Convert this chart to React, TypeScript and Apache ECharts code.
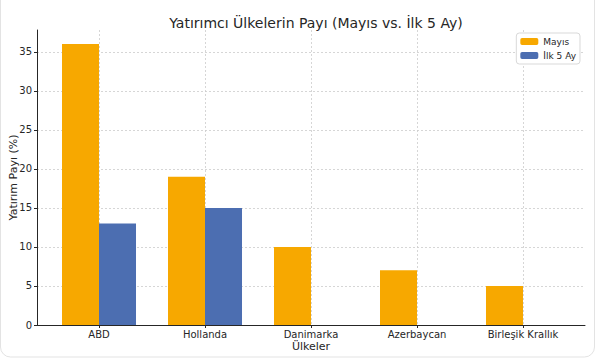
import { useEffect, useRef } from "react";
import * as echarts from "echarts";

const categories = ["ABD", "Hollanda", "Danimarka", "Azerbaycan", "Birleşik Krallık"];
const mayis = [36, 19, 10, 7, 5];
const ilk5: (number | null)[] = [13, 15, null, null, null];
const yTicks = [0, 5, 10, 15, 20, 25, 30, 35];
const xTicks = [0, 1, 2, 3, 4];

const FONT = "DejaVu Sans";

export default function App() {
  const ref = useRef<HTMLDivElement>(null);
  useEffect(() => {
    if (!ref.current) return;
    const chart = echarts.init(ref.current, undefined, { renderer: "svg" });
    const toPairs = (arr: (number | null)[]) =>
      arr.map((v, i) => (v == null ? null : [i, v])).filter((d) => d != null);
    chart.setOption({
      animation: false,
      textStyle: { fontFamily: FONT },
      title: {
        text: "Yatırımcı Ülkelerin Payı (Mayıs vs. İlk 5 Ay)",
        left: 311,
        textAlign: "center",
        top: 11,
        textStyle: { fontFamily: FONT, fontSize: 14, fontWeight: "normal", color: "#262626" },
      },
      legend: {
        orient: "vertical",
        right: 16,
        top: 33,
        itemWidth: 18,
        itemHeight: 7,
        itemGap: 5,
        padding: [4, 4, 4, 4],
        borderColor: "#d9d9d9",
        borderWidth: 1,
        borderRadius: 3,
        backgroundColor: "#ffffff",
        textStyle: { fontFamily: FONT, fontSize: 9, color: "#262626" },
        data: ["Mayıs", "İlk 5 Ay"],
      },
      grid: { left: 37, right: 11, top: 30, bottom: 34, outerBoundsMode: "none" },
      xAxis: {
        type: "value",
        min: -0.585,
        max: 4.585,
        name: "Ülkeler",
        nameLocation: "middle",
        nameGap: 16,
        nameMoveOverlap: false,
        nameTextStyle: { fontFamily: FONT, fontSize: 11, color: "#262626", verticalAlign: "top" },
        axisLine: { show: true, onZero: false, lineStyle: { color: "#262626", width: 1 } },
        axisTick: { show: true, customValues: xTicks, length: 3, lineStyle: { color: "#262626" } },
        axisLabel: {
          customValues: xTicks,
          formatter: (v: number) => categories[Math.round(v)] ?? "",
          fontFamily: FONT,
          fontSize: 10,
          color: "#262626",
          margin: 4,
        },
        splitLine: { show: true, lineStyle: { color: "#cccccc", type: [2, 2], width: 0.8 } },
      },
      yAxis: {
        type: "value",
        min: 0,
        max: 37.8,
        name: "Yatırım Payı (%)",
        nameLocation: "middle",
        nameGap: 18,
        nameMoveOverlap: false,
        nameTextStyle: { fontFamily: FONT, fontSize: 11, color: "#262626" },
        axisLine: { show: true, onZero: false, lineStyle: { color: "#262626", width: 1 } },
        axisTick: { show: true, customValues: yTicks, length: 3, lineStyle: { color: "#262626" } },
        axisLabel: { customValues: yTicks, fontFamily: FONT, fontSize: 10, color: "#262626", margin: 5 },
        splitLine: { show: true, lineStyle: { color: "#cccccc", type: [2, 2], width: 0.8 } },
      },
      series: [
        {
          name: "Mayıs",
          type: "bar",
          data: toPairs(mayis),
          barWidth: 37,
          barGap: "0%",
          itemStyle: { color: "#F7A800" },
        },
        {
          name: "İlk 5 Ay",
          type: "bar",
          data: toPairs(ilk5),
          barWidth: 37,
          barGap: "0%",
          itemStyle: { color: "#4C6EB1" },
        },
      ],
      graphic: [
        {
          type: "rect",
          shape: { x: 0.5, y: -10, width: 594, height: 367, r: 10 },
          style: { fill: "none", stroke: "#e3e3e3", lineWidth: 1 },
          silent: true,
        },
      ],
    });
    return () => chart.dispose();
  }, []);
  return (
    <div
      ref={ref}
      style={{ position: "fixed", left: 0, top: 0, width: 596, height: 359, background: "#fff" }}
    />
  );
}
